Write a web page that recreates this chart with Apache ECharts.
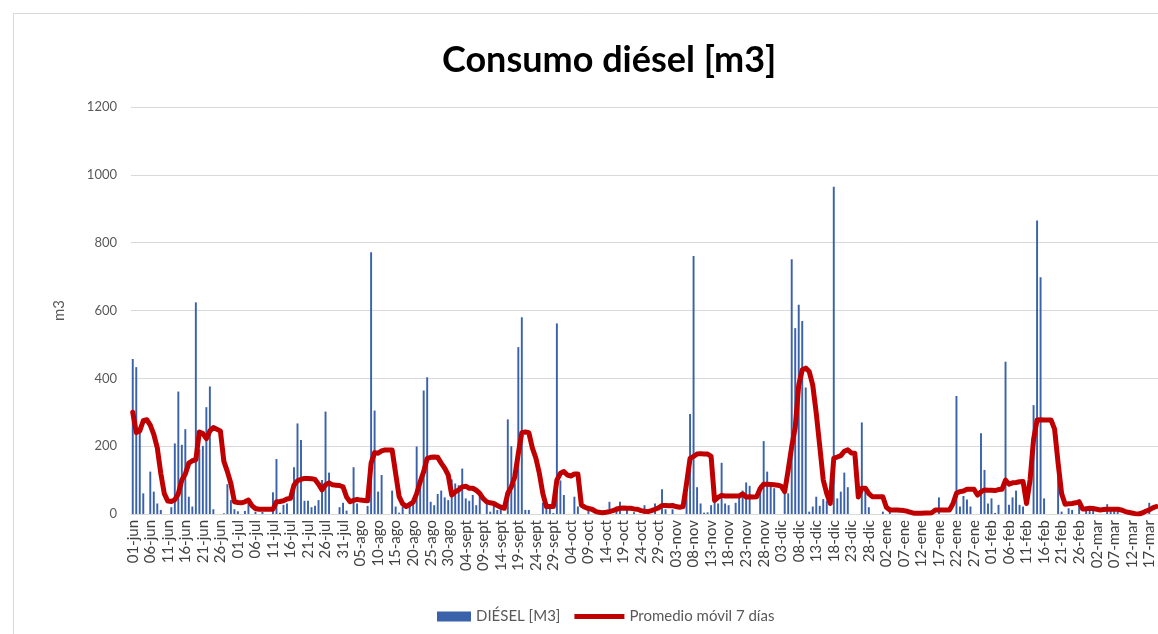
<!DOCTYPE html>
<html lang="es" style="height: 100%">
<head>
  <meta charset="utf-8">
</head>
<body style="height: 100%; margin: 0">
  <div id="container" style="width: 1158px; height: 634px"></div>

  <script type="text/javascript" src="https://fastly.jsdelivr.net/npm/echarts@6/dist/echarts.min.js"></script>

  <script type="text/javascript">
    // etiquetas del eje: 01-jun ... 19-mar (feb con 29 dias)
    const meses = ['jun', 'jul', 'ago', 'sept', 'oct', 'nov', 'dic', 'ene', 'feb', 'mar'];
    const diasMes = [30, 31, 31, 30, 31, 30, 31, 31, 29, 19];

    // consumo diario [m3]
    const diesel = [
      457, 433, 240, 61, 0, 125, 66, 31, 12, 0,
      0, 20, 208, 361, 204, 250, 51, 22, 624, 191,
      201, 315, 376, 14, 0, 0, 2, 88, 41, 14,
      8, 0, 9, 31, 0, 7, 0, 6, 0, 0,
      64, 162, 4, 27, 31, 0, 138, 267, 218, 39,
      39, 20, 24, 41, 100, 302, 122, 0, 0, 20,
      33, 10, 0, 138, 31, 0, 0, 24, 772, 305,
      66, 115, 0, 0, 69, 22, 4, 22, 0, 36,
      36, 199, 95, 364, 403, 36, 26, 59, 69, 49,
      41, 102, 90, 85, 134, 46, 39, 56, 26, 56,
      0, 31, 7, 26, 12, 17, 0, 279, 200, 91,
      492, 580, 12, 12, 0, 0, 0, 33, 26, 22,
      3, 562, 99, 56, 0, 0, 51, 22, 0, 0,
      24, 0, 0, 0, 0, 0, 36, 0, 22, 36,
      0, 14, 0, 5, 0, 0, 26, 0, 0, 31,
      0, 73, 14, 0, 14, 0, 0, 0, 61, 295,
      761, 79, 31, 4, 5, 26, 49, 31, 151, 31,
      26, 0, 33, 51, 69, 93, 83, 0, 0, 85,
      215, 125, 81, 76, 0, 0, 66, 61, 751, 548,
      617, 569, 373, 7, 22, 51, 24, 44, 39, 0,
      965, 46, 66, 122, 79, 0, 0, 0, 270, 69,
      20, 0, 0, 0, 7, 0, 20, 0, 0, 0,
      0, 0, 0, 0, 0, 0, 0, 0, 0, 0,
      49, 0, 0, 0, 0, 348, 22, 53, 43, 22,
      0, 0, 238, 130, 31, 46, 3, 27, 0, 449,
      27, 49, 69, 27, 22, 0, 0, 321, 865, 698,
      46, 0, 0, 0, 135, 7, 0, 17, 12, 0,
      43, 0, 22, 22, 17, 0, 0, 0, 29, 12,
      12, 12, 0, 0, 0, 0, 0, 0, 0, 0,
      33, 0, 0
    ];

    // promedio movil 7 dias
    const promedio = [
      300, 240, 245, 275, 278, 262, 235, 195, 120, 60,
      38, 37, 42, 60, 100, 118, 150, 157, 160, 242,
      237, 222, 245, 255, 250, 245, 155, 125, 90, 36,
      34, 33, 36, 41, 25, 16, 14, 14, 14, 14,
      14, 36, 37, 39, 44, 46, 85, 98, 102, 105,
      105, 104, 102, 88, 71, 86, 92, 86, 85, 84,
      80, 50, 36, 40, 43, 41, 40, 39, 150, 181,
      179, 186, 189, 189, 189, 120, 51, 30, 22, 28,
      35, 60, 95, 125, 164, 167, 168, 167, 150, 135,
      115, 56, 65, 71, 80, 82, 76, 76, 70, 61,
      45, 36, 33, 31, 25, 20, 17, 61, 80, 110,
      179, 240, 242, 240, 195, 165, 120, 60, 22, 22,
      22, 100, 120, 125, 115, 112, 118, 118, 26, 20,
      16, 14, 8, 5, 4, 5, 7, 10, 14, 17,
      18, 17, 17, 15, 14, 10, 8, 7, 10, 14,
      18, 25, 25, 24, 25, 22, 20, 22, 90, 164,
      170, 177, 178, 177, 177, 170, 40, 49, 55, 53,
      53, 53, 53, 53, 59, 50, 51, 50, 51, 75,
      88, 88, 87, 86, 85, 82, 66, 130, 199, 255,
      380, 425, 430, 420, 380, 297, 200, 100, 60, 31,
      164, 168, 172, 185, 189, 180, 179, 50, 76, 76,
      60, 51, 51, 51, 51, 20, 12, 12, 12, 11,
      10, 8, 5, 2, 2, 2, 3, 3, 4, 12,
      12, 12, 12, 12, 30, 61, 66, 68, 73, 73,
      73, 56, 65, 71, 70, 70, 69, 72, 73, 100,
      88, 92, 93, 95, 96, 31, 100, 220, 277, 278,
      277, 277, 277, 250, 150, 60, 29, 30, 31, 33,
      36, 15, 15, 17, 16, 14, 12, 13, 14, 14,
      14, 14, 12, 8, 5, 3, 1, 0, 3, 8,
      12, 18, 22
    ];

    const fechas = [];
    meses.forEach(function (m, i) {
      for (let d = 1; d <= diasMes[i]; d++) {
        fechas.push((d < 10 ? '0' + d : '' + d) + '-' + m);
      }
    });

    var dom = document.getElementById('container');
    var myChart = echarts.init(dom, null, { renderer: 'canvas' });

    var fuente = 'Lato';

    var option = {
      animation: false,
      backgroundColor: '#ffffff',
      title: {
        text: 'Consumo diésel [m3]',
        left: 437,
        top: 37,
        textStyle: {
          fontFamily: fuente,
          fontSize: 36,
          fontWeight: 'bold',
          color: '#000000'
        }
      },
      graphic: [{
        type: 'rect',
        shape: { x: 13.5, y: 13.5, width: 1200, height: 700 },
        style: { fill: 'none', stroke: '#d9d9d9', lineWidth: 1 },
        silent: true
      }],
      legend: {
        left: 416,
        bottom: 5,
        itemGap: 14,
        itemWidth: 50,
        itemHeight: 10,
        textStyle: { fontFamily: fuente, fontSize: 15, color: '#595959' },
        data: [
          { name: 'DIÉSEL [M3]', icon: 'path://M0,0 M16,0 L50,0 L50,10 L16,10 Z' },
          { name: 'Promedio móvil 7 días', icon: 'path://M0,0 M0,2.5 L50,2.5 L50,7.5 L0,7.5 Z M50,10' }
        ]
      },
      grid: {
        left: 131,
        top: 107,
        width: 1028,
        bottom: 120
      },
      xAxis: {
        type: 'category',
        data: fechas,
        boundaryGap: true,
        axisTick: { show: false },
        axisLine: { lineStyle: { color: '#d9d9d9', width: 1 } },
        axisLabel: {
          interval: 4,
          rotate: 90,
          margin: 6,
          fontFamily: fuente,
          fontSize: 15,
          color: '#404040'
        }
      },
      yAxis: {
        type: 'value',
        min: 0,
        max: 1200,
        interval: 200,
        name: 'm3',
        nameLocation: 'middle',
        nameRotate: 90,
        nameGap: 64,
        nameTextStyle: { fontFamily: fuente, fontSize: 15, color: '#595959' },
        axisLine: { show: false },
        axisTick: { show: false },
        axisLabel: {
          margin: 14,
          fontFamily: fuente,
          fontSize: 13,
          color: '#595959',
          formatter: function (v) { return String(v); }
        },
        splitLine: { lineStyle: { color: '#d9d9d9', width: 1 } }
      },
      series: [
        {
          name: 'DIÉSEL [M3]',
          type: 'bar',
          barWidth: '55%',
          itemStyle: { color: '#3A62AA' },
          data: diesel
        },
        {
          name: 'Promedio móvil 7 días',
          type: 'line',
          symbol: 'none',
          lineStyle: { color: '#C00000', width: 5, join: 'round', cap: 'round' },
          itemStyle: { color: '#C00000' },
          data: promedio
        }
      ]
    };

    myChart.setOption(option);
    window.addEventListener('resize', myChart.resize);
  </script>
</body>
</html>
